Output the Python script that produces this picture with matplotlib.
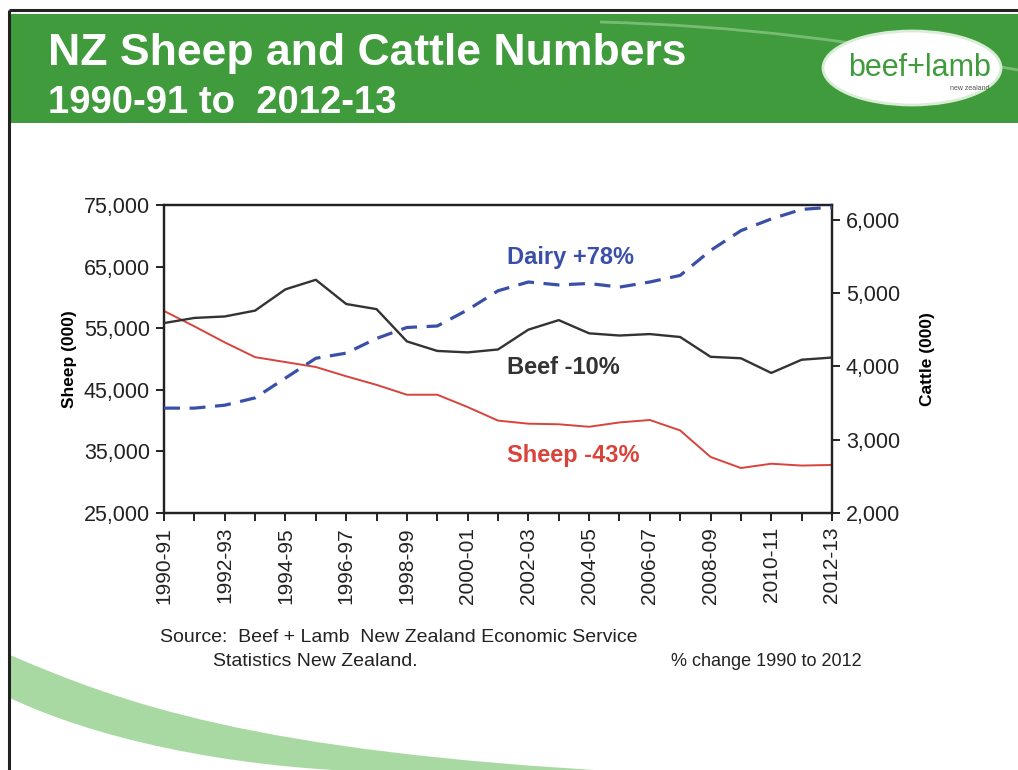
import matplotlib
matplotlib.use("Agg")
import matplotlib.pyplot as plt
from matplotlib.patches import Rectangle, Ellipse, PathPatch
from matplotlib.path import Path
from matplotlib.ticker import FuncFormatter, MultipleLocator

# NZ livestock numbers (000 head), June years
seasons = ["1990-91", "1991-92", "1992-93", "1993-94", "1994-95", "1995-96",
           "1996-97", "1997-98", "1998-99", "1999-00", "2000-01", "2001-02",
           "2002-03", "2003-04", "2004-05", "2005-06", "2006-07", "2007-08",
           "2008-09", "2009-10", "2010-11", "2011-12", "2012-13"]
sheep = [57800, 55300, 52700, 50300, 49500, 48700, 47200, 45800, 44200,
         44200, 42200, 40000, 39500, 39400, 39000, 39700, 40100, 38400,
         34100, 32300, 33000, 32700, 32800]
beef = [4590, 4660, 4680, 4760, 5050, 5180, 4850, 4780, 4340, 4210, 4190,
        4230, 4500, 4630, 4450, 4420, 4440, 4400, 4130, 4110, 3910, 4090, 4120]
dairy = [3430, 3430, 3470, 3570, 3840, 4110, 4180, 4380, 4530, 4550, 4770,
         5030, 5150, 5110, 5130, 5080, 5150, 5240, 5580, 5850, 6010, 6140, 6170]

sheep_ticks = [25000, 35000, 45000, 55000, 65000, 75000]
cattle_ticks = [2000, 3000, 4000, 5000, 6000]

GREEN = "#3f9b3c"
SHEEP_RED = "#d8433b"
BEEF_GREY = "#333333"
DAIRY_BLUE = "#3a50a8"
FONT = ["Liberation Sans", "DejaVu Sans"]

plt.rcParams["font.family"] = FONT

W, H = 1018, 770
fig = plt.figure(figsize=(W / 100, H / 100), dpi=100)
fig.patch.set_facecolor("white")

# slide background drawn in pixel space
bg = fig.add_axes([0, 0, 1, 1], zorder=0)
bg.set_xlim(0, W)
bg.set_ylim(H, 0)
bg.axis("off")

bg.plot([9, W], [10, 10], color="#222222", lw=2.2, solid_capstyle="butt")
bg.plot([9, 9], [10, H], color="#222222", lw=2.2, solid_capstyle="butt")
bg.add_patch(Rectangle((11, 14), W - 11, 109, facecolor=GREEN, edgecolor="none"))

# faint highlight arc through the banner
arc = Path([(600, 22), (740, 26), (850, 40), (1018, 70)],
           [Path.MOVETO, Path.CURVE4, Path.CURVE4, Path.CURVE4])
bg.add_patch(PathPatch(arc, facecolor="none", edgecolor="#8fcb8a", lw=2, alpha=0.7))

# bottom-left swoosh
swoosh = Path([(10, 655), (120, 702), (250, 752), (630, 772),
               (380, 772),
               (220, 768), (90, 736), (10, 698),
               (10, 655)],
              [Path.MOVETO, Path.CURVE4, Path.CURVE4, Path.CURVE4,
               Path.LINETO,
               Path.CURVE4, Path.CURVE4, Path.CURVE4,
               Path.CLOSEPOLY])
bg.add_patch(PathPatch(swoosh, facecolor="#a9d9a2", edgecolor="none"))

# titles
bg.text(48, 65, "NZ Sheep and Cattle Numbers", color="white", fontsize=32,
        fontweight="bold", va="baseline", ha="left")
bg.text(48, 113, "1990-91 to  2012-13", color="white", fontsize=27.5,
        fontweight="bold", va="baseline", ha="left")

# logo
bg.add_patch(Ellipse((912, 68), 178, 74, facecolor="white", edgecolor="#d8ecd6", lw=2))
bg.text(920, 68, "beef+lamb", color=GREEN, fontsize=22,
        ha="center", va="center")
bg.text(990, 88, "new zealand", color="#555555", fontsize=5,
        ha="right", va="center")

# chart
left, right, top, bottom = 164, 832, 205, 513
ax = fig.add_axes([left / W, 1 - bottom / H, (right - left) / W, (bottom - top) / H],
                  zorder=2)
ax2 = ax.twinx()

x = list(range(len(seasons)))
ax.plot(x, sheep, color=SHEEP_RED, lw=1.4, zorder=3)
ax2.plot(x, beef, color=BEEF_GREY, lw=1.7, zorder=3)
ax2.plot(x, dairy, color=DAIRY_BLUE, lw=2.3, dashes=(5, 3), zorder=3)

ax.set_xlim(0, len(seasons) - 1)
ax.set_ylim(25000, 75000)
ax2.set_ylim(2000, 6200)

ax.set_yticks(sheep_ticks)
ax2.set_yticks(cattle_ticks)
comma = FuncFormatter(lambda v, p: f"{int(v):,}")
ax.yaxis.set_major_formatter(comma)
ax2.yaxis.set_major_formatter(comma)

ax.set_xticks(x[::2])
ax.set_xticklabels(seasons[::2], rotation=90)
ax.xaxis.set_minor_locator(MultipleLocator(1))

for a in (ax, ax2):
    for s in a.spines.values():
        s.set_linewidth(1.6)
        s.set_color("#222222")
ax.tick_params(axis="x", which="both", direction="out", length=6, width=1.4,
               labelsize=15, pad=4, colors="#222222")
ax.tick_params(axis="y", direction="out", length=6, width=1.4, labelsize=15.5,
               pad=4, colors="#222222")
ax2.tick_params(axis="y", direction="out", length=6, width=1.4, labelsize=15.5,
                pad=4, colors="#222222")

ax.set_ylabel("Sheep (000)", fontsize=12.5, fontweight="bold", labelpad=5)
ax2.set_ylabel("Cattle (000)", fontsize=12.5, fontweight="bold", labelpad=14)

# series annotations
ax2.text(11.3, 5490, "Dairy +78%", color=DAIRY_BLUE, fontsize=17, fontweight="bold",
         va="center", ha="left")
ax2.text(11.3, 3990, "Beef -10%", color=BEEF_GREY, fontsize=17, fontweight="bold",
         va="center", ha="left")
ax.text(11.3, 34400, "Sheep -43%", color=SHEEP_RED, fontsize=17, fontweight="bold",
        va="center", ha="left")

# footnotes
bg.text(160, 638, "Source:  Beef + Lamb  New Zealand Economic Service",
        fontsize=14, color="#222222", va="center", ha="left")
bg.text(213, 661, "Statistics New Zealand.", fontsize=14,
        color="#222222", va="center", ha="left")
bg.text(862, 662, "% change 1990 to 2012", fontsize=13,
        color="#222222", va="center", ha="right")

fig.savefig("out.png", dpi=100)
